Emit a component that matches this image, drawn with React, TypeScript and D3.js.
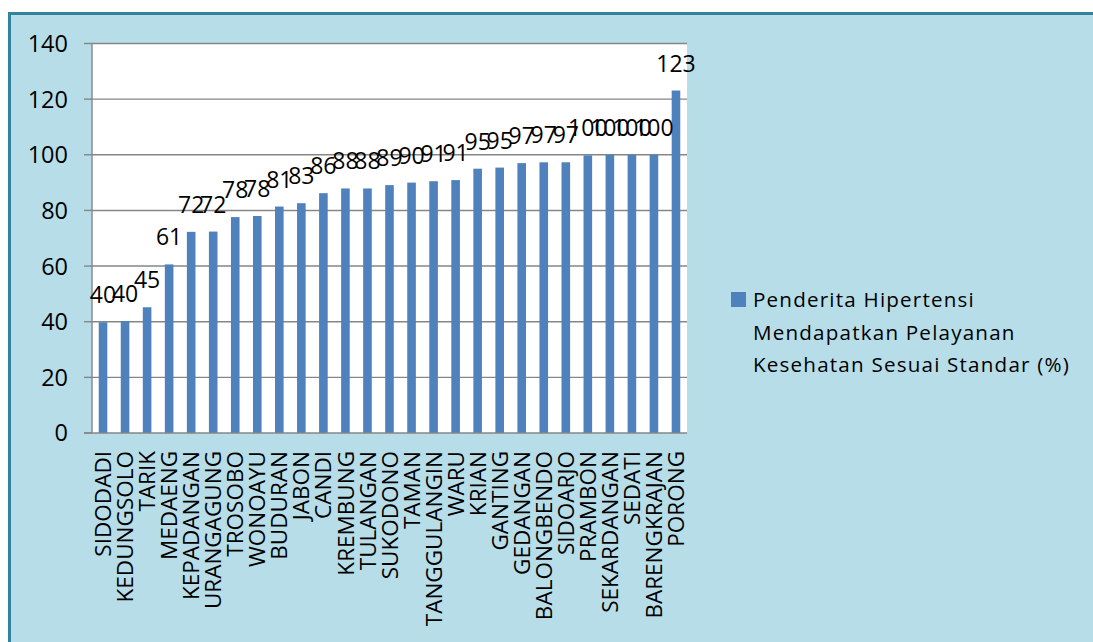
import React from "react";
import * as d3 from "d3";

const categories = [
  "SIDODADI", "KEDUNGSOLO", "TARIK", "MEDAENG", "KEPADANGAN", "URANGAGUNG",
  "TROSOBO", "WONOAYU", "BUDURAN", "JABON", "CANDI", "KREMBUNG", "TULANGAN",
  "SUKODONO", "TAMAN", "TANGGULANGIN", "WARU", "KRIAN", "GANTING", "GEDANGAN",
  "BALONGBENDO", "SIDOARJO", "PRAMBON", "SEKARDANGAN", "SEDATI", "BARENGKRAJAN", "PORONG",
];
const values = [
  39.8, 40.2, 45.2, 60.6, 72.3, 72.4, 77.6, 78.0, 81.4, 82.6, 86.2, 87.9, 87.9,
  89.1, 90.0, 90.5, 90.9, 95.0, 95.4, 97.0, 97.3, 97.3, 99.8, 100, 100, 100, 123.1,
];
const yTicks = [0, 20, 40, 60, 80, 100, 120, 140];
const legendLines = [
  "Penderita Hipertensi",
  "Mendapatkan Pelayanan",
  "Kesehatan Sesuai Standar (%)",
];

const W = 1093;
const H = 642;
const FONT = "'Open Sans', sans-serif";
const BAR = "#4f81bd";

export default function App() {
  const plot = { left: 92, right: 687, top: 43.5, bottom: 433 };
  const x = d3
    .scaleBand<string>()
    .domain(categories)
    .range([plot.left, plot.right])
    .paddingInner(0.61)
    .paddingOuter(0.305);
  const y = d3.scaleLinear().domain([0, 140]).range([plot.bottom, plot.top]);
  const band = d3.scaleBand<string>().domain(categories).range([plot.left, plot.right]);

  return (
    <svg
      width={W}
      height={H}
      style={{ position: "absolute", left: 0, top: 0, background: "#fff" }}
    >
      <rect x={0} y={0} width={W} height={H} fill="#ffffff" />
      <rect
        x={9.5}
        y={13.5}
        width={W + 20}
        height={H + 20}
        fill="#b7dde8"
        stroke="#31849b"
        strokeWidth={3}
      />
      <rect
        x={plot.left}
        y={plot.top}
        width={plot.right - plot.left}
        height={plot.bottom - plot.top}
        fill="#ffffff"
      />
      {yTicks.map((t) => (
        <g key={t}>
          {t > 0 && (
            <line
              x1={plot.left}
              x2={plot.right}
              y1={y(t)}
              y2={y(t)}
              stroke="#868686"
              strokeWidth={1.4}
            />
          )}
          <line x1={plot.left - 8} x2={plot.left} y1={y(t)} y2={y(t)} stroke="#868686" strokeWidth={1.4} />
          <text
            x={68}
            y={y(t)}
            dy="0.36em"
            textAnchor="end"
            fontFamily={FONT}
            fontSize={23.5}
            fill="#000"
          >
            {t}
          </text>
        </g>
      ))}
      {categories.map((c, i) => (
        <rect
          key={c}
          x={x(c)}
          y={y(values[i])}
          width={x.bandwidth()}
          height={y(0) - y(values[i])}
          fill={BAR}
        />
      ))}
      <line x1={plot.left} x2={plot.left} y1={plot.top} y2={plot.bottom} stroke="#868686" strokeWidth={1.4} />
      <line x1={plot.left - 8} x2={plot.right} y1={plot.bottom} y2={plot.bottom} stroke="#868686" strokeWidth={1.6} />
      {categories.map((c, i) => (
        <text
          key={"v" + c}
          x={(band(c) as number) + band.bandwidth() / 2}
          y={y(values[i]) - 19}
          textAnchor="middle"
          fontFamily={FONT}
          fontSize={23}
          fill="#000"
        >
          {Math.round(values[i])}
        </text>
      ))}
      {categories.map((c) => {
        const cx = (band(c) as number) + band.bandwidth() / 2;
        return (
          <text
            key={"c" + c}
            transform={`translate(${cx},451) rotate(-90)`}
            dy="0.36em"
            textAnchor="end"
            fontFamily={FONT}
            fontSize={22.5}
            fill="#000"
          >
            {c}
          </text>
        );
      })}
      <rect x={731} y={292} width={15} height={15} fill={BAR} />
      {legendLines.map((l, i) => (
        <text
          key={l}
          x={753}
          y={307 + i * 32.5}
          fontFamily={FONT}
          fontSize={20.6}
          letterSpacing={1.2}
          fill="#000"
        >
          {l}
        </text>
      ))}
    </svg>
  );
}
